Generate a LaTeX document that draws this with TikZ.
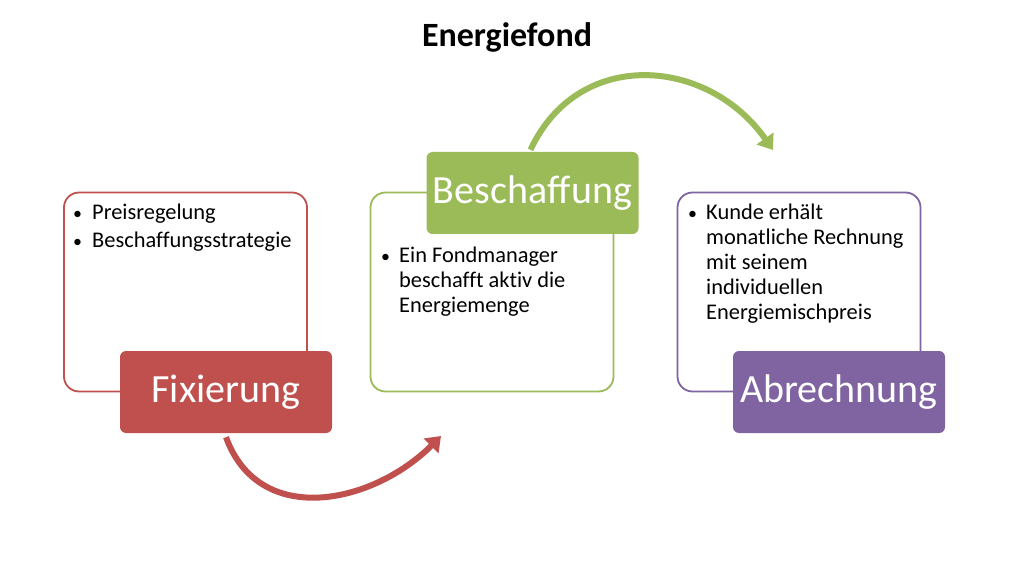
\documentclass[tikz,border=0pt]{standalone}
\usepackage{fontspec}
\setmainfont{Carlito}[Ligatures=NoCommon]
\usepackage{xcolor}
\usetikzlibrary{arrows.meta, positioning}
\definecolor{fixred}{HTML}{C0504D}
\definecolor{beschgreen}{HTML}{9BBB59}
\definecolor{abrpurple}{HTML}{8064A2}
\newcommand{\dotmark}{\scalebox{0.8}{\textbullet}}
\tikzset{
  stagebox/.style={draw=#1, line width=1.8pt, rounded corners=15pt, fill=white,
    minimum width=243pt, minimum height=199pt},
  stagetag/.style={fill=#1, rounded corners=6pt, text=white, inner sep=0pt,
    minimum width=212pt, minimum height=82pt, font=\fontsize{40}{48}\selectfont},
  bulletlist/.style={anchor=base west, inner sep=0pt, font=\fontsize{22.4}{25}\selectfont},
  cyclearrow/.style={draw=#1, line width=6pt, -{Triangle[width=20pt,length=14pt]}}
}
\begin{document}
\begin{tikzpicture}[x=1pt,y=1pt]
    \useasboundingbox (0,0) rectangle (1024,576);
    \node[font=\bfseries\fontsize{34}{40}\selectfont] (title) at (507,539) {Energiefond};
    % boxes
    \node[stagebox=fixred] (fixbox) at (185.5,284) {};
    \node[stagebox=beschgreen] (beschbox) at (492,284) {};
    \node[stagebox=abrpurple] (abrbox) at (799,284) {};
    % texts
    \node[bulletlist] (fixtext) at (73,356) {\begin{tabular}[t]{@{}p{19pt}@{}l@{}}
      \dotmark & Preisregelung\\[3pt]
      \dotmark & Beschaffungsstrategie
    \end{tabular}};
    \node[bulletlist] (beschtext) at (381,313) {\begin{tabular}[t]{@{}p{18pt}@{}l@{}}
      \dotmark & Ein Fondmanager\\
      & beschafft aktiv die\\
      & Energiemenge
    \end{tabular}};
    \node[bulletlist] (abrtext) at (688,356) {\begin{tabular}[t]{@{}p{18pt}@{}l@{}}
      \dotmark & Kunde erhält\\
      & monatliche Rechnung\\
      & mit seinem\\
      & individuellen\\
      & Energiemischpreis
    \end{tabular}};
    % tags
    \node[stagetag=fixred] (fix) at (226,184) {Fixierung};
    \node[stagetag=beschgreen] (besch) at (532.5,383) {Beschaffung};
    \node[stagetag=abrpurple] (abr) at (839,184) {Abrechnung};
    % arrows
    \coordinate (redend) at (441,140);
    \coordinate (greenend) at (773,426);
    \draw[cyclearrow=fixred] ([yshift=-4pt]fix.south) to[out=-70,in=-135,looseness=1.15] (redend);
    \draw[cyclearrow=beschgreen] ([xshift=-2pt,yshift=2pt]besch.north) to[out=65,in=125,looseness=1.2] (greenend);
\end{tikzpicture}
\end{document}
